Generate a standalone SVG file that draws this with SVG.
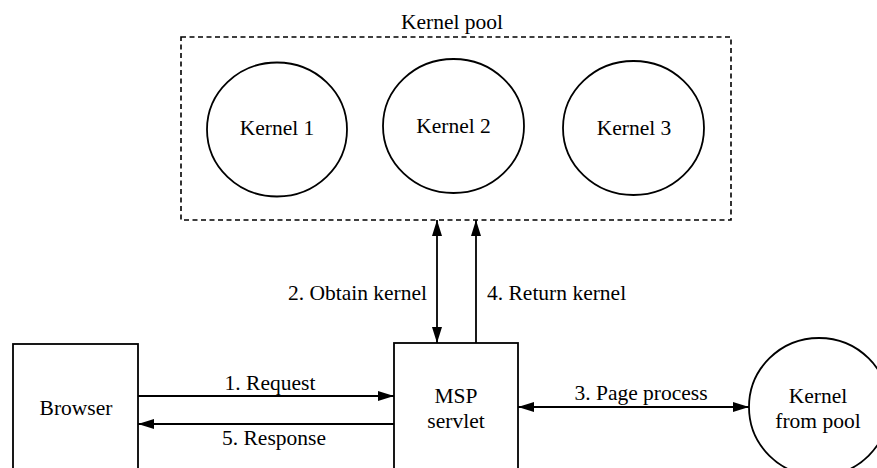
<svg xmlns="http://www.w3.org/2000/svg" width="877" height="468" viewBox="0 0 877 468">
<style>
text{font-family:'Liberation Serif','Times New Roman',serif;font-size:21.5px;fill:#000}
.c{text-anchor:middle}
.s{fill:none;stroke:#000;stroke-width:1.8}
.ln{fill:none;stroke:#000;stroke-width:1.8}
</style>
<defs>
<marker id="ah" markerUnits="userSpaceOnUse" markerWidth="16" markerHeight="10" viewBox="0 0 16 10" refX="16" refY="5" orient="auto-start-reverse">
<path d="M0,0 L16,5 L0,10 z" fill="#000"/>
</marker>
</defs>
<rect width="877" height="468" fill="#fff"/>
<g id="pool">
<rect x="181" y="37" width="550" height="183" fill="none" stroke="#000" stroke-width="1.6" stroke-dasharray="5,3.5"/>
<text class="c" x="452" y="29">Kernel pool</text>
</g>
<g id="kernel1">
<ellipse class="s" cx="277" cy="129.5" rx="70" ry="67"/>
<text class="c" x="277" y="135">Kernel 1</text>
</g>
<g id="kernel2">
<ellipse class="s" cx="453.5" cy="126" rx="70.5" ry="67"/>
<text class="c" x="453.5" y="133">Kernel 2</text>
</g>
<g id="kernel3">
<ellipse class="s" cx="633.5" cy="128" rx="70.5" ry="67"/>
<text class="c" x="634" y="135">Kernel 3</text>
</g>
<g id="browser">
<rect class="s" x="13" y="344" width="125" height="140"/>
<text class="c" x="76" y="415">Browser</text>
</g>
<g id="msp">
<rect class="s" x="394" y="343" width="124" height="140"/>
<text class="c" x="456" y="403">MSP</text>
<text class="c" x="456" y="428">servlet</text>
</g>
<g id="kfp">
<ellipse class="s" cx="819" cy="407" rx="70" ry="69"/>
<text class="c" x="818" y="403">Kernel</text>
<text class="c" x="818" y="428">from pool</text>
</g>
<g id="connectors">
<line class="ln" x1="437" y1="220" x2="437" y2="343" marker-start="url(#ah)" marker-end="url(#ah)"/>
<line class="ln" x1="476" y1="343" x2="476" y2="220" marker-end="url(#ah)"/>
<line class="ln" x1="138" y1="396" x2="394" y2="396" stroke-width="1.4" marker-end="url(#ah)"/>
<line class="ln" x1="394" y1="424" x2="138" y2="424" marker-end="url(#ah)"/>
<line class="ln" x1="518" y1="407" x2="749" y2="407" marker-start="url(#ah)" marker-end="url(#ah)"/>
<text x="427" y="300" text-anchor="end">2. Obtain kernel</text>
<text x="487" y="300">4. Return kernel</text>
<text class="c" x="270" y="390">1. Request</text>
<text class="c" x="274" y="445">5. Response</text>
<text class="c" x="641" y="400">3. Page process</text>
</g>
</svg>
